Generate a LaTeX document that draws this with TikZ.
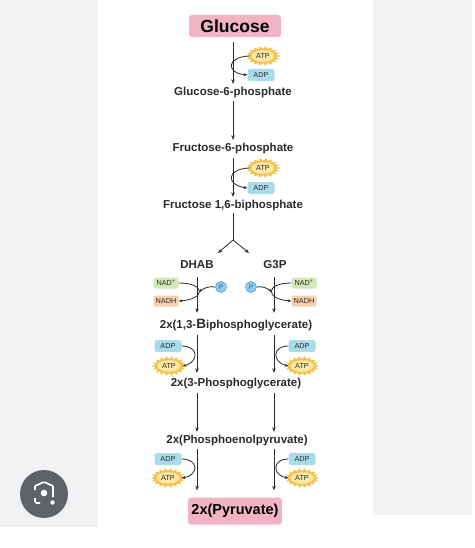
\documentclass[tikz,border=0pt]{standalone}
\usepackage{fontspec}
\setmainfont{Liberation Sans}
\usetikzlibrary{arrows.meta,calc}

\definecolor{ink}{HTML}{2B2B2B}
\definecolor{pinkc}{HTML}{F2B3C5}
\definecolor{adpc}{HTML}{A9DCEA}
\definecolor{nadc}{HTML}{D3E7B7}
\definecolor{nadhc}{HTML}{F9D0AE}
\definecolor{pfill}{HTML}{93CDEF}
\definecolor{pdraw}{HTML}{4C9FD6}
\definecolor{ptext}{HTML}{1E5F92}
\definecolor{burstout}{HTML}{F6C24F}
\definecolor{burstin}{HTML}{FDE7A4}
\definecolor{panel}{HTML}{F1F2F4}
\definecolor{lensc}{HTML}{5F6368}

\tikzset{
  lbl/.style={font=\fontsize{11.5}{12}\selectfont\bfseries, text=ink, inner sep=1.5pt, text height=8.5pt, text depth=2.5pt},
  endbox/.style={fill=pinkc, rounded corners=3pt, text=black, inner sep=0pt},
  smalltxt/.style={font=\fontsize{7.3}{8}\selectfont, text=ink},
  adpbox/.style={smalltxt, fill=adpc, rounded corners=2.5pt, minimum width=27pt, minimum height=12pt, inner sep=0pt},
  nadbox/.style={smalltxt, fill=nadc, rounded corners=1.5pt, minimum width=25pt, minimum height=11pt, inner sep=0pt},
  nadhbox/.style={smalltxt, fill=nadhc, rounded corners=1.5pt, minimum width=25pt, minimum height=11pt, inner sep=0pt},
  atplbl/.style={smalltxt, minimum width=27pt, minimum height=12pt, inner sep=0pt},
  pcirc/.style={circle, fill=pfill, draw=pdraw, line width=0.6pt, minimum size=11pt, inner sep=0pt, font=\fontsize{6.5}{7}\selectfont, text=ptext},
  flow/.style={draw=ink, line width=0.8pt, -{Stealth[length=4.5pt,width=3.6pt]}},
  plainline/.style={draw=ink, line width=0.8pt},
  side/.style={draw=ink, line width=0.8pt, -{Stealth[length=3.6pt,width=3pt]}},
}

\newcommand\atpmark[2]{%
  \fill[burstout] ($(#2)+(17,0)$) \foreach \k in {1,...,35}{ -- ($(#2)+({ifthenelse(mod(\k,2)==1,13.5,17)*cos(\k*10)},{ifthenelse(mod(\k,2)==1,7.3,9.8)*sin(\k*10)})$)} -- cycle;
  \fill[burstin] (#2) ellipse (11.5 and 5.8);
  \node[atplbl] (#1) at (#2) {ATP};
}

\begin{document}
\begin{tikzpicture}[x=1pt,y=-1pt]
\useasboundingbox (0,0) rectangle (474,548);
\fill[white] (0,0) rectangle (474,548);
\fill[panel] (0,0) rectangle (98,527);
\fill[panel] (373,0) rectangle (472,515);

% lens icon
\fill[lensc] (44,494) circle (24);
\draw[white, line width=1.7pt, rounded corners=1.5pt]
  (35,490) -- (35,485) -- (39,485) -- (41,482.5) -- (47,482.5) -- (49,485) -- (53,485) -- (53,497);
\draw[white, line width=1.7pt, rounded corners=1.5pt] (35,498) -- (35,503) -- (40,503);
\fill[white] (44,493) circle (3.3);
\fill[white] (52.5,502.5) circle (2.2);

% main nodes
\node[endbox, font=\fontsize{17.5}{18}\selectfont\bfseries, minimum width=92pt, minimum height=22pt] (glc) at (235,26) {Glucose};
\node[lbl] (g6p) at (233,93) {Glucose-6-phosphate};
\node[lbl] (f6p) at (233,149) {Fructose-6-phosphate};
\node[lbl] (f16) at (233,205) {Fructose 1,6-biphosphate};
\node[lbl] (dhab) at (197,265) {DHAB};
\node[lbl] (g3p) at (275,265) {G3P};
\node[lbl] (bpg) at (236,325) {2x(1,3-{\fontsize{13.5}{14}\selectfont B}iphosphoglycerate)};
\node[lbl] (pg3) at (236,383) {2x(3-Phosphoglycerate)};
\node[lbl] (pep) at (237,440) {2x(Phosphoenolpyruvate)};
\node[endbox, font=\fontsize{14.5}{15}\selectfont\bfseries, minimum width=94pt, minimum height=27pt] (pyr) at (235,511) {2x(Pyruvate)};

% main arrows
\draw[flow, shorten <=5pt, shorten >=2pt] (glc.south -| g6p) -- (g6p.north);
\draw[flow, shorten <=1pt, shorten >=2pt] (g6p.south) -- (f6p.north);
\draw[flow, shorten <=2pt, shorten >=1pt] (f6p.south) -- (f16.north);

\coordinate (fork) at (233,240);
\coordinate (forkL) at (218,253);
\coordinate (forkR) at (249,253);
\draw[plainline, shorten <=1pt] (f16.south) -- (fork);
\draw[flow] (fork) -- (forkL);
\draw[flow] (fork) -- (forkR);

\draw[flow, shorten <=5pt, shorten >=5pt] (dhab.south) -- (dhab.south |- bpg.north);
\draw[flow, shorten <=5pt, shorten >=5pt] (g3p.south) ++(-1,0) coordinate (g3pS) (g3pS) -- (g3pS |- bpg.north);
\draw[flow, shorten <=3pt, shorten >=3pt] (bpg.south -| dhab) -- (pg3.north -| dhab);
\draw[flow, shorten <=3pt, shorten >=3pt] (bpg.south -| g3pS) -- (pg3.north -| g3pS);
\draw[flow, shorten <=3pt, shorten >=1pt] (pg3.south -| dhab) -- (pep.north -| dhab);
\draw[flow, shorten <=3pt, shorten >=1pt] (pg3.south -| g3pS) -- (pep.north -| g3pS);
\draw[flow, shorten <=2pt, shorten >=7pt] (pep.south -| dhab) -- (pyr.north -| dhab);
\draw[flow, shorten <=2pt, shorten >=7pt] (pep.south -| g3pS) -- (pyr.north -| g3pS);

% step 1
\atpmark{atp1}{263,56}
\node[adpbox] (adp1) at (261,75) {ADP};
\draw[side] (atp1.west) .. controls (226,57) and (226,73) .. (adp1.west);

% step 3
\atpmark{atp2}{263,168}
\node[adpbox] (adp2) at (261,188) {ADP};
\draw[side] (atp2.west) .. controls (226,169) and (226,185) .. (adp2.west);

% NAD steps
\node[nadbox] (nadL) at (166,283) {NAD\textsuperscript{+}};
\node[nadhbox] (nadhL) at (166,301) {NADH};
\node[pcirc] (pL) at (221,287) {P};
\coordinate (pLend) at (199,292);
\draw[side] (nadL.east) .. controls (206,283) and (206,299) .. (nadhL.east);
\draw[side] (pL.west) .. controls (209,286) and (204,288) .. (pLend);

\node[nadbox] (nadR) at (304,283) {NAD\textsuperscript{+}};
\node[nadhbox] (nadhR) at (304,301) {NADH};
\node[pcirc] (pR) at (251,287) {P};
\coordinate (pRend) at (272,292);
\draw[side] (nadR.west) .. controls (265,283) and (265,299) .. (nadhR.west);
\draw[side] (pR.east) .. controls (262,286) and (267,288) .. (pRend);

% ADP -> ATP steps
\node[adpbox] (adp3L) at (168,346) {ADP};
\atpmark{atp3L}{169,366}
\draw[side] (adp3L.east) .. controls (199,346) and (199,362) .. (atp3L.east);
\node[adpbox] (adp3R) at (302,346) {ADP};
\atpmark{atp3R}{302,366}
\draw[side] (adp3R.west) .. controls (272,346) and (272,362) .. (atp3R.west);

\node[adpbox] (adp4L) at (168,459) {ADP};
\atpmark{atp4L}{168,478}
\draw[side] (adp4L.east) .. controls (199,459) and (199,475) .. (atp4L.east);
\node[adpbox] (adp4R) at (302,459) {ADP};
\atpmark{atp4R}{302,478}
\draw[side] (adp4R.west) .. controls (272,459) and (272,475) .. (atp4R.west);
\end{tikzpicture}
\end{document}
